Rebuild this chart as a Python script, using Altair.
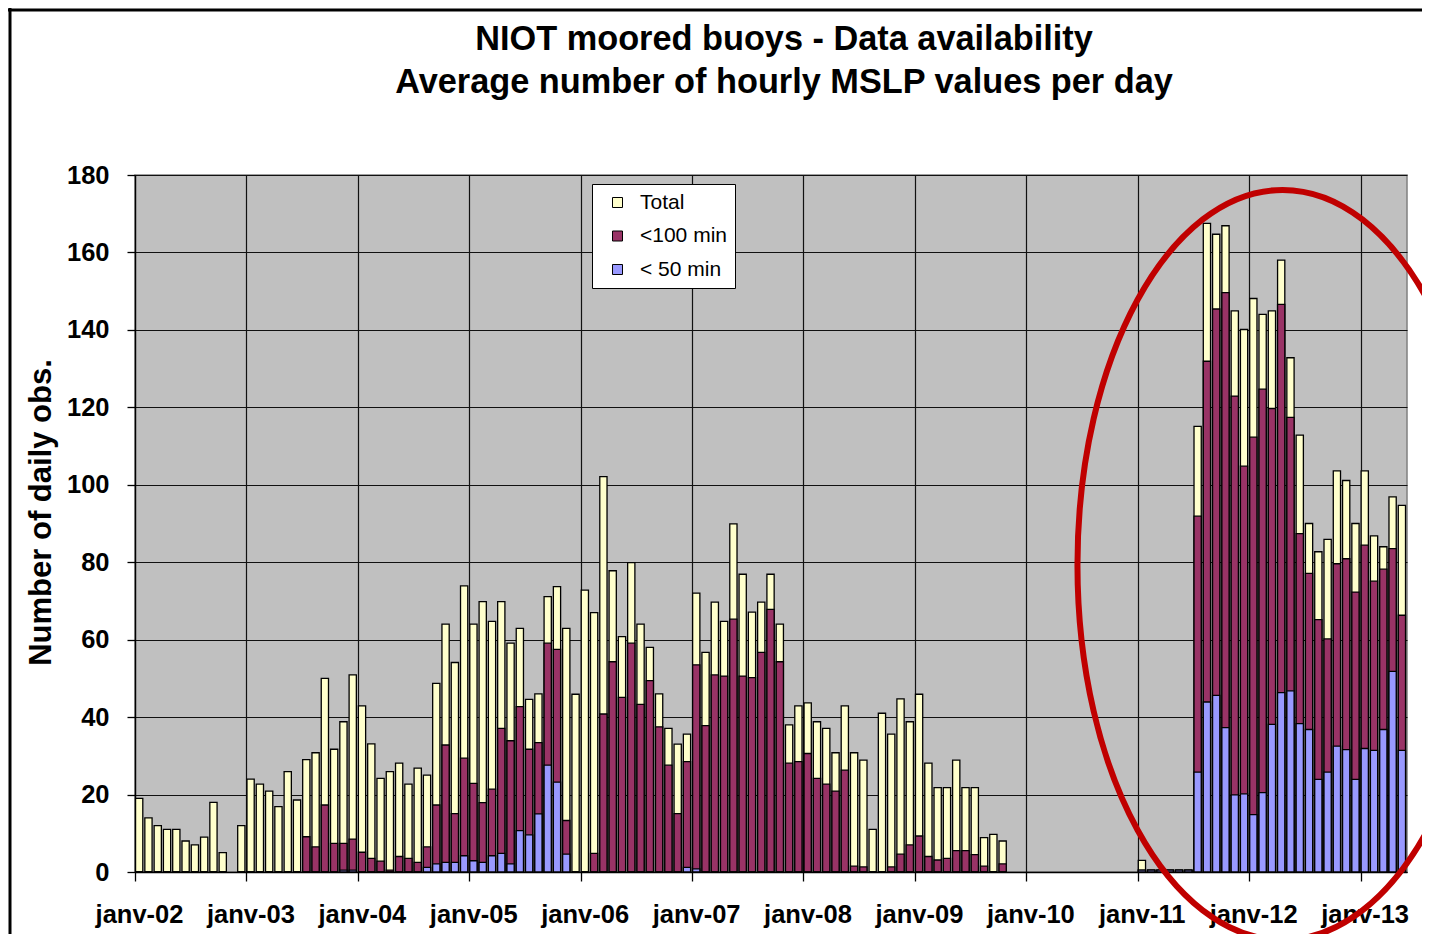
import altair as alt
import pandas as pd
import json

# ---------------- data (monthly, Jan 2002 .. May 2013) ----------------
tick_labels = ["janv-02", "janv-03", "janv-04", "janv-05", "janv-06", "janv-07",
               "janv-08", "janv-09", "janv-10", "janv-11", "janv-12", "janv-13"]
series_names = ["Total", "<100 min", "< 50 min"]
series_colors = ["#FFFFCC", "#993366", "#9999FF"]

N = None
total = [
    19, 14, 12, 11, 11, 8, 7, 9, 18, 5, N, 12,                                  # 2002
    24, 22.7, 20.9, 16.9, 25.9, 18.6, 29, 30.8, 50, 31.7, 38.8, 50.9,          # 2003
    42.9, 33.1, 24.2, 25.9, 28.1, 22.7, 26.8, 25, 48.7, 64, 54.1, 73.9,        # 2004
    64, 69.8, 64.7, 69.8, 59.1, 62.9, 44.6, 46, 71.1, 73.7, 62.9, 45.9,        # 2005
    72.8, 67, 102.1, 77.8, 60.8, 79.9, 64, 58, 46, 37.1, 33, 35.6,             # 2006
    72, 56.7, 69.7, 64.7, 89.9, 76.9, 67.1, 69.7, 76.9, 64, 38, 42.9,          # 2007
    43.7, 38.8, 37.1, 30.8, 42.9, 30.8, 28.9, 11, 41, 35.6, 44.7, 38.8,        # 2008
    45.9, 28.1, 21.8, 21.8, 28.9, 21.8, 21.8, 8.9, 9.7, 8, N, N,               # 2009
    N, N, N, N, N, N, N, N, N, N, N, N,                                        # 2010
    3, 0.5, 0.5, 0.5, 0.5, 0.5, 115.1, 167.5, 164.7, 166.9, 144.9, 140.1,      # 2011
    148.1, 144, 144.9, 158, 132.8, 112.8, 90, 82.7, 85.9, 103.6, 101.1, 90,    # 2012
    103.6, 86.8, 84, 96.9, 94.7,                                               # 2013
]
lt100 = [
    0, 0, 0, 0, 0, 0, 0, 0, 0, 0, N, 0,                                         # 2002
    0, 0, 0, 0, 0, 0, 9.1, 6.5, 17.3, 7.4, 7.4, 8.5,                            # 2003
    5.1, 3.5, 2.8, 0.5, 4, 3.5, 2.5, 6.5, 17.3, 32.8, 15.1, 29.4,               # 2004
    22.9, 17.9, 21.4, 37.1, 33.9, 42.7, 31.7, 33.4, 59.1, 57.5, 13.3, 0,        # 2005
    0, 4.8, 40.8, 54.3, 45.1, 59.1, 43.3, 49.4, 37.5, 27.6, 15.1, 28.5,         # 2006
    53.5, 37.8, 50.9, 50.6, 65.3, 50.6, 50.2, 56.7, 67.8, 54.3, 28.1, 28.5,     # 2007
    30.6, 24.2, 22.7, 20.9, 26.3, 1.5, 1.3, 0, 0, 1.3, 4.6, 7,                  # 2008
    9.3, 4, 3.1, 3.5, 5.5, 5.5, 4.5, 1.5, 0, 2.1, N, N,                         # 2009
    N, N, N, N, N, N, N, N, N, N, N, N,                                         # 2010
    0.5, 0.5, 0.5, 0.5, 0.5, 0.5, 91.9, 131.9, 145.4, 149.6, 122.9, 104.8,      # 2011
    112.3, 124.7, 119.7, 146.6, 117.4, 87.4, 77.1, 65.2, 60.2, 79.6, 80.9, 72.3,# 2012
    84.4, 75.1, 78.2, 83.5, 66.3,                                               # 2013
]
lt50 = [
    0, 0, 0, 0, 0, 0, 0, 0, 0, 0, N, 0,                                         # 2002
    0, 0, 0, 0, 0, 0, 0, 0, 0, 0, 0.5, 0.5,                                     # 2003
    0, 0, 0, 0, 0, 0, 0, 1.2, 2.1, 2.5, 2.5, 4.2,                               # 2004
    2.9, 2.5, 4.2, 4.8, 2.1, 10.7, 9.6, 15, 27.6, 23.2, 4.6, 0,                 # 2005
    0, 0, 0, 0, 0, 0, 0, 0, 0, 0, 0, 1.2,                                       # 2006
    0.8, 0, 0, 0, 0, 0, 0, 0, 0, 0, 0, 0,                                       # 2007
    0, 0, 0, 0, 0, 0, 0, 0, 0, 0, 0, 0,                                         # 2008
    0, 0, 0, 0, 0, 0, 0, 0, 0, 0, N, N,                                         # 2009
    N, N, N, N, N, N, N, N, N, N, N, N,                                         # 2010
    0.5, 0.5, 0.5, 0.5, 0.5, 0.5, 25.8, 43.9, 45.6, 37.3, 19.9, 20.2,           # 2011
    14.8, 20.5, 38.1, 46.3, 46.8, 38.3, 36.8, 23.9, 25.8, 32.5, 31.6, 23.9,     # 2012
    31.9, 31.4, 36.8, 51.8, 31.4,                                               # 2013
]

# highlight ellipse (annotation) centre, in data units
ellipse_center_month = [123.6]
ellipse_center_value = [79.3]

# ---------------- build table ----------------
rows = []
for i in range(len(total)):
    for name, arr in zip(series_names, [total, lt100, lt50]):
        v = arr[i]
        if v is not None:
            rows.append({"m": i, "series": name, "v": v})
df = pd.DataFrame(rows)

n_months = len(total)
FONT = "Liberation Sans"

xscale = alt.Scale(domain=[0, n_months], nice=False, zero=False)
yscale = alt.Scale(domain=[0, 180], nice=False)
color_scale = alt.Scale(domain=series_names, range=series_colors)

label_expr = json.dumps(tick_labels) + "[round(datum.value / 12)]"

xaxis = alt.Axis(values=list(range(0, 12 * len(tick_labels), 12)), labelExpr=label_expr,
                 title=None, grid=True, gridColor="#111111", gridWidth=1.2,
                 domainColor="black", domainWidth=1.3, tickColor="black", tickSize=9,
                 tickWidth=1.3, labelFont=FONT, labelFontSize=25.5, labelFontWeight="bold",
                 labelColor="black", labelPadding=21, labelOffset=4, labelOverlap=False,
                 labelFlush=False, labelBound=False)
yaxis = alt.Axis(values=list(range(0, 181, 20)), title="Number of daily obs.",
                 grid=True, gridColor="#111111", gridWidth=1.2,
                 domainColor="black", domainWidth=1.3, tickColor="black", tickSize=8,
                 tickWidth=1.3, labelFont=FONT, labelFontSize=25.5, labelFontWeight="bold",
                 labelColor="black", labelPadding=18,
                 titleFont=FONT, titleFontSize=31, titleFontWeight="bold", titleColor="black",
                 titleAngle=270, titleX=-85, titleY=337, titleAlign="center",
                 titleBaseline="alphabetic")

legend = alt.Legend(title=None, orient="none", legendX=457, legendY=9, direction="vertical",
                    fillColor="white", strokeColor="black", padding=8,
                    symbolType="square", symbolSize=100, symbolStrokeColor="black",
                    symbolStrokeWidth=1, symbolOffset=7, labelOffset=12,
                    labelFont=FONT, labelFontSize=21, labelFontWeight="normal",
                    labelColor="black", rowPadding=11.5, symbolOpacity=1)

base = alt.Chart(df).transform_calculate(
    m0="datum.m + 0.06", m1="datum.m + 0.84", z="0")

layers = []
for name in series_names:
    layers.append(
        base.transform_filter(alt.datum.series == name)
        .mark_bar(stroke="black", strokeWidth=1.3, opacity=1)
        .encode(
            x=alt.X("m0:Q", scale=xscale, axis=xaxis),
            x2="m1:Q",
            y=alt.Y("v:Q", scale=yscale, axis=yaxis),
            y2="z:Q",
            color=alt.Color("series:N", scale=color_scale, legend=legend),
        )
    )

ellipse_path = ("M 0.547 0 C 0.547 0.552 0.302 1 0 1 C -0.302 1 -0.547 0.552 -0.547 0 "
                "C -0.547 -0.552 -0.302 -1 0 -1 C 0.302 -1 0.547 -0.552 0.547 0 Z")
ell_df = pd.DataFrame({"cx": ellipse_center_month, "cy": ellipse_center_value})
ellipse = alt.Chart(ell_df).mark_point(
    shape=ellipse_path, size=562500, filled=False, color="#C00000",
    strokeWidth=6, opacity=1
).encode(x=alt.X("cx:Q", scale=xscale), y=alt.Y("cy:Q", scale=yscale))

frame_df = pd.DataFrame({"d": [0]})
frame_top = alt.Chart(frame_df).mark_rule(color="black", strokeWidth=3).encode(
    x=alt.value(-127), x2=alt.value(1300), y=alt.value(-165), y2=alt.value(-165))
frame_left = alt.Chart(frame_df).mark_rule(color="black", strokeWidth=3).encode(
    x=alt.value(-125), x2=alt.value(-125), y=alt.value(-167), y2=alt.value(770))

chart = alt.layer(*layers, ellipse, frame_top, frame_left).properties(
    width=1272, height=697,
    title=alt.TitleParams(
        text=["NIOT moored buoys - Data availability",
              "Average number of hourly MSLP values per day"],
        font=FONT, fontSize=34.3, fontWeight="bold", color="black",
        anchor="middle", dx=13, offset=0, dy=94, lineHeight=43),
    autosize=alt.AutoSizeParams(type="none"),
    padding={"left": 127, "top": 167, "right": 15, "bottom": 62},
    background="white",
).configure_view(fill="#C0C0C0", stroke="#808080", strokeWidth=1.5)

chart.save("out.html", embed_options={"renderer": "svg", "actions": False})
